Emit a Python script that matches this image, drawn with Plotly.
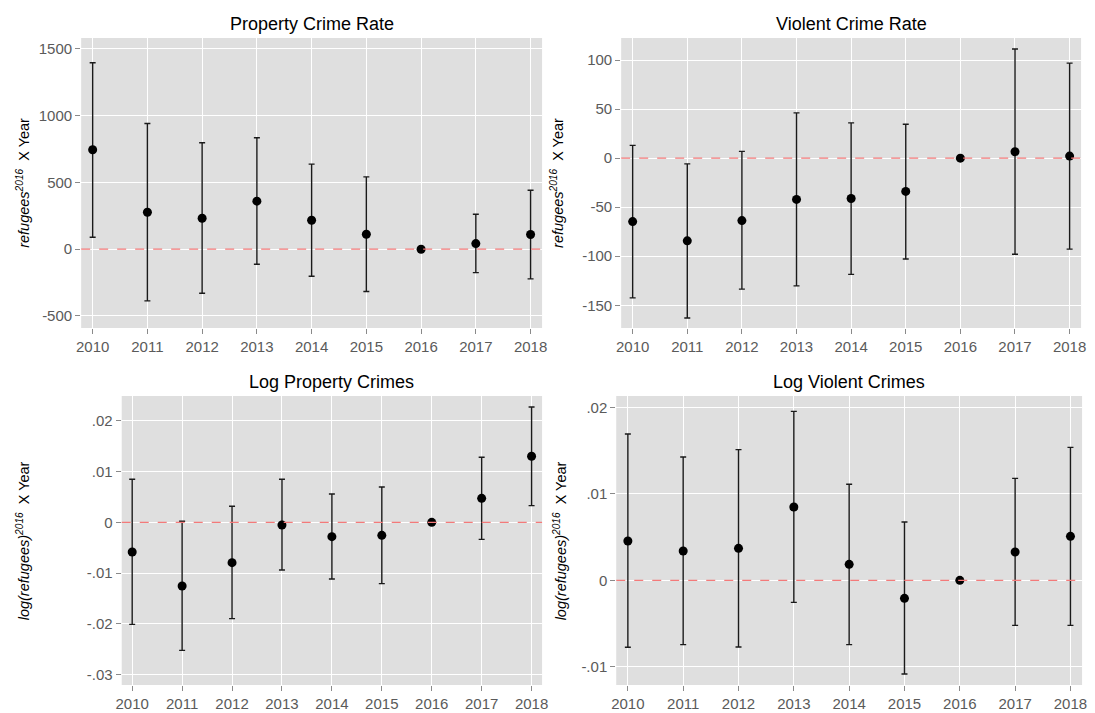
import plotly.graph_objects as go

# Event-study coefficients (point estimate with 95% CI bounds), by year
years = [2010, 2011, 2012, 2013, 2014, 2015, 2016, 2017, 2018]

prop_rate_est = [745, 277, 232, 360, 217, 112, 0, 42, 110]
prop_rate_hi = [1397, 942, 797, 835, 637, 542, 0, 262, 442]
prop_rate_lo = [90, -387, -330, -112, -202, -317, 0, -175, -222]

viol_rate_est = [-64.7, -84.3, -63.7, -42.1, -41.1, -33.9, 0, 6.5, 2.1]
viol_rate_hi = [13.0, -5.8, 6.9, 46.2, 36.0, 34.6, 0, 111.3, 96.9]
viol_rate_lo = [-142.5, -163.0, -133.6, -130.2, -118.5, -102.8, 0, -98.0, -92.8]

log_prop_est = [-0.00586, -0.01257, -0.00796, -0.00053, -0.00283, -0.00257, 0, 0.00474, 0.01303]
log_prop_hi = [0.00849, 0.0002, 0.00316, 0.00849, 0.00559, 0.00697, 0, 0.01283, 0.02276]
log_prop_lo = [-0.02013, -0.02526, -0.01901, -0.00941, -0.01118, -0.0121, 0, -0.00336, 0.00329]

log_viol_est = [0.00455, 0.00339, 0.0037, 0.00848, 0.00185, -0.00208, 0, 0.00328, 0.00509]
log_viol_hi = [0.01693, 0.01427, 0.01512, 0.01955, 0.01111, 0.00675, 0, 0.0118, 0.01539]
log_viol_lo = [-0.00775, -0.00744, -0.00771, -0.00255, -0.00744, -0.01084, 0, -0.00521, -0.00521]

titles = ["Property Crime Rate", "Violent Crime Rate", "Log Property Crimes", "Log Violent Crimes"]

prop_rate_ticks = [-500, 0, 500, 1000, 1500]
prop_rate_labels = ["-500", "0", "500", "1000", "1500"]
viol_rate_ticks = [-150, -100, -50, 0, 50, 100]
viol_rate_labels = ["-150", "-100", "-50", "0", "50", "100"]
log_prop_ticks = [-0.03, -0.02, -0.01, 0, 0.01, 0.02]
log_prop_labels = ["-.03", "-.02", "-.01", "0", ".01", ".02"]
log_viol_ticks = [-0.01, 0, 0.01, 0.02]
log_viol_labels = ["-.01", "0", ".01", ".02"]

W, H = 1095, 713
FONT = "Liberation Sans, Arial, Helvetica, sans-serif"
PANEL_BG = "#DFDFDF"
TICK_GRAY = "#5a5a5a"


def px_x(v):
    return v / W


def px_y(v):
    return 1 - v / H


panels = [
    dict(est=prop_rate_est, hi=prop_rate_hi, lo=prop_rate_lo,
         xd=(76, 542), yd=(38, 328), yr=(-590, 1582),
         tv=prop_rate_ticks, tt=prop_rate_labels, ylab_x=17,
         ylab="<i>refugees<sup>2016</sup></i>  X Year"),
    dict(est=viol_rate_est, hi=viol_rate_hi, lo=viol_rate_lo,
         xd=(622, 1087), yd=(38, 328), yr=(-173.2, 122.5),
         tv=viol_rate_ticks, tt=viol_rate_labels, ylab_x=557,
         ylab="<i>refugees<sup>2016</sup></i>  X Year"),
    dict(est=log_prop_est, hi=log_prop_hi, lo=log_prop_lo,
         xd=(117, 542), yd=(396, 685), yr=(-0.0321, 0.02493),
         tv=log_prop_ticks, tt=log_prop_labels, ylab_x=17,
         ylab="<i>log(refugees)<sup>2016</sup></i>  X Year"),
    dict(est=log_viol_est, hi=log_viol_hi, lo=log_viol_lo,
         xd=(617, 1088), yd=(396, 685), yr=(-0.01211, 0.02133),
         tv=log_viol_ticks, tt=log_viol_labels, ylab_x=560,
         ylab="<i>log(refugees)<sup>2016</sup></i>  X Year"),
]

fig = go.Figure()
annotations = []
shapes = []

for i, p in enumerate(panels, start=1):
    xa = "x" if i == 1 else f"x{i}"
    ya = "y" if i == 1 else f"y{i}"
    plus = [h - e for h, e in zip(p["hi"], p["est"])]
    minus = [e - l for e, l in zip(p["est"], p["lo"])]
    fig.add_trace(go.Scatter(
        x=years, y=p["est"], mode="markers", xaxis=xa, yaxis=ya,
        marker=dict(color="black", size=9),
        error_y=dict(type="data", array=plus, arrayminus=minus, symmetric=False,
                     color="#1a1a1a", thickness=1.4, width=3),
        showlegend=False,
    ))

    xkey = "xaxis" if i == 1 else f"xaxis{i}"
    ykey = "yaxis" if i == 1 else f"yaxis{i}"
    fig.layout[xkey] = dict(
        domain=[px_x(p["xd"][0]), px_x(p["xd"][1])],
        range=[2009.79, 2018.21], anchor=ya,
        tickvals=years, ticktext=[str(y) for y in years],
        showgrid=True, gridcolor="white", gridwidth=1.2,
        zeroline=False, showline=False,
        ticks="outside", ticklen=5, tickcolor="#8a8a8a", tickwidth=1,
        tickfont=dict(family=FONT, size=15, color=TICK_GRAY),
    )
    fig.layout[ykey] = dict(
        domain=[px_y(p["yd"][1]), px_y(p["yd"][0])],
        range=list(p["yr"]), anchor=xa,
        tickvals=p["tv"], ticktext=p["tt"],
        showgrid=True, gridcolor="white", gridwidth=1.2,
        zeroline=False, showline=False,
        ticks="outside", ticklen=5, tickcolor="#8a8a8a", tickwidth=1,
        tickfont=dict(family=FONT, size=15, color=TICK_GRAY),
    )

    # reference line at zero
    shapes.append(dict(
        type="line", xref=f"{xa} domain", yref=ya, x0=0, x1=1, y0=0, y1=0,
        line=dict(color="#F47A7A", width=1.2, dash="dash"), layer="above",
    ))

    # panel title
    annotations.append(dict(
        text=titles[i - 1], xref="paper", yref="paper",
        x=px_x((p["xd"][0] + p["xd"][1]) / 2), y=px_y(p["yd"][0] - 2),
        xanchor="center", yanchor="bottom", showarrow=False,
        font=dict(family=FONT, size=18, color="black", weight="normal"),
    ))

    # y-axis title
    annotations.append(dict(
        text=p["ylab"], xref="paper", yref="paper",
        x=px_x(p["ylab_x"]), y=px_y((p["yd"][0] + p["yd"][1]) / 2),
        xanchor="center", yanchor="middle", textangle=-90, showarrow=False,
        font=dict(family=FONT, size=14.5, color="black"),
    ))

fig.update_layout(
    width=W, height=H,
    margin=dict(l=0, r=0, t=0, b=0),
    paper_bgcolor="white",
    plot_bgcolor=PANEL_BG,
    annotations=annotations,
    shapes=shapes,
)

fig.write_html("out.html")
